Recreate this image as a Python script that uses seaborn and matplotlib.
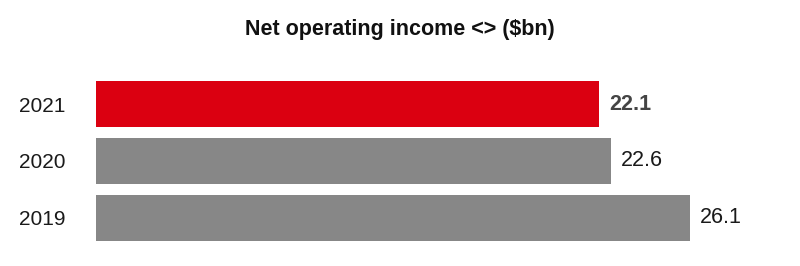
import matplotlib
matplotlib.use("Agg")
import matplotlib.pyplot as plt
import seaborn as sns
import pandas as pd

years = ["2021", "2020", "2019"]
values = [22.1, 22.6, 26.1]
colors = ["#DB0011", "#878787", "#878787"]
value_labels = ["22.1", "22.6", "26.1"]
title = "Net operating income <> ($bn)"

sns.set_theme(style="white")
plt.rcParams["font.family"] = ["Liberation Sans", "DejaVu Sans"]

df = pd.DataFrame({"year": years, "value": values})

fig = plt.figure(figsize=(8, 2.66), dpi=100)
ax = fig.add_axes([96 / 800, 1 - 246 / 266, 683 / 800, 170 / 266])

sns.barplot(data=df, x="value", y="year", hue="year", order=years,
            palette=dict(zip(years, colors)), width=0.81, ax=ax,
            legend=False, saturation=1, edgecolor="none", linewidth=0)

ax.set_xlim(0, 30)
ax.set_ylim(2.5, -0.5)
ax.set_xlabel("")
ax.set_ylabel("")
ax.set_xticks([])
for s in ax.spines.values():
    s.set_visible(False)
ax.tick_params(axis="y", length=0, pad=22, labelsize=15, labelcolor="#1a1a1a")

for i, (v, lab) in enumerate(zip(values, value_labels)):
    bold = i == 0
    ax.text(v + 0.44, i, lab, va="center", ha="left", fontsize=15.5,
            fontweight="bold" if bold else "normal",
            color="#444444" if bold else "#1a1a1a")

fig.text(0.5, 1 - 30 / 266, title, ha="center", va="center", fontsize=15.5,
         fontweight="bold", color="#111111")

fig.savefig("out.png", dpi=100)
